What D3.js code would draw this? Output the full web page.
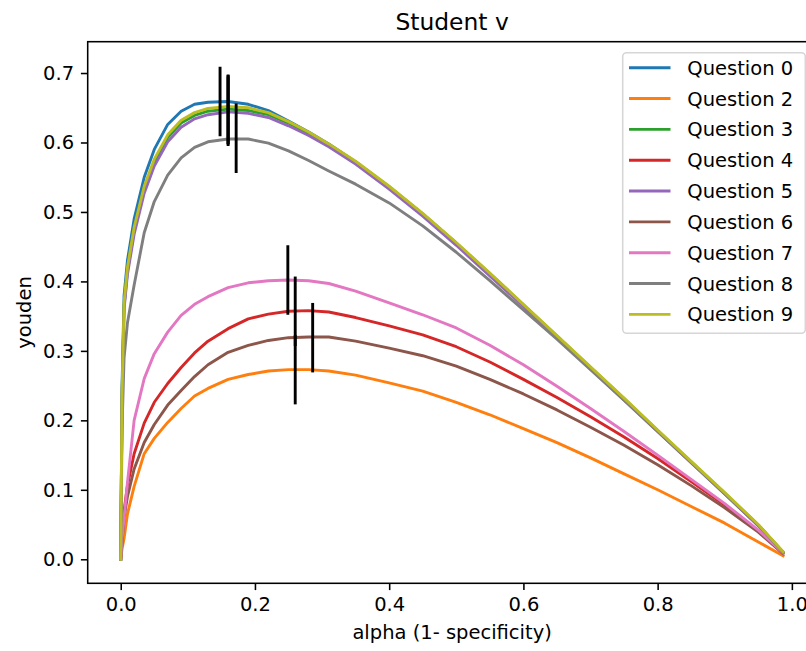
<!DOCTYPE html>
<html>
<head>
<meta charset="utf-8">
<script src="https://cdn.jsdelivr.net/npm/d3@7"></script>
<style>
  body { margin: 0; background: #fff; }
  svg { display: block; font-family: "DejaVu Sans", sans-serif; }
</style>
</head>
<body>
<svg id="chart" width="806" height="651"></svg>
<script>
// alpha (1 - specificity) grid shared by every curve
const alpha = [0, 0.002, 0.005, 0.01, 0.02, 0.035, 0.05, 0.07, 0.09, 0.11, 0.13, 0.16, 0.19, 0.22, 0.25, 0.28, 0.31, 0.35, 0.4, 0.45, 0.5, 0.55, 0.6, 0.65, 0.7, 0.75, 0.8, 0.85, 0.9, 0.95, 0.987];

const questions = ["Question 0", "Question 2", "Question 3", "Question 4", "Question 5", "Question 6", "Question 7", "Question 8", "Question 9"];

const q0 = [0, 0.25, 0.38, 0.43, 0.49, 0.55, 0.59, 0.626, 0.645, 0.655, 0.658, 0.659, 0.655, 0.646, 0.631, 0.615, 0.598, 0.572, 0.536, 0.497, 0.455, 0.411, 0.366, 0.321, 0.276, 0.231, 0.185, 0.14, 0.095, 0.049, 0.01];
const q2 = [0, 0.015, 0.03, 0.065, 0.105, 0.152, 0.174, 0.197, 0.217, 0.235, 0.246, 0.259, 0.266, 0.271, 0.273, 0.273, 0.271, 0.265, 0.254, 0.242, 0.226, 0.208, 0.188, 0.168, 0.146, 0.123, 0.1, 0.076, 0.052, 0.025, 0.005];
const q3 = [0, 0.235, 0.365, 0.415, 0.474, 0.533, 0.572, 0.607, 0.628, 0.639, 0.645, 0.648, 0.646, 0.64, 0.628, 0.613, 0.597, 0.572, 0.536, 0.497, 0.455, 0.411, 0.366, 0.321, 0.276, 0.231, 0.185, 0.14, 0.095, 0.049, 0.01];
const q4 = [0, 0.03, 0.07, 0.106, 0.152, 0.196, 0.226, 0.253, 0.276, 0.297, 0.314, 0.332, 0.346, 0.353, 0.357, 0.358, 0.356, 0.348, 0.336, 0.323, 0.306, 0.284, 0.259, 0.233, 0.205, 0.176, 0.145, 0.112, 0.078, 0.041, 0.009];
const q5 = [0, 0.23, 0.36, 0.41, 0.468, 0.527, 0.566, 0.601, 0.622, 0.634, 0.64, 0.644, 0.642, 0.636, 0.624, 0.61, 0.594, 0.569, 0.533, 0.494, 0.452, 0.408, 0.364, 0.319, 0.274, 0.229, 0.184, 0.139, 0.094, 0.048, 0.01];
const q6 = [0, 0.025, 0.06, 0.09, 0.13, 0.168, 0.194, 0.222, 0.243, 0.263, 0.28, 0.298, 0.308, 0.315, 0.319, 0.32, 0.32, 0.314, 0.304, 0.293, 0.278, 0.259, 0.238, 0.215, 0.19, 0.164, 0.136, 0.106, 0.074, 0.039, 0.008];
const q7 = [0, 0.03, 0.06, 0.11, 0.2, 0.26, 0.296, 0.327, 0.351, 0.367, 0.378, 0.391, 0.398, 0.401, 0.402, 0.401, 0.397, 0.386, 0.369, 0.352, 0.333, 0.308, 0.28, 0.249, 0.217, 0.184, 0.15, 0.115, 0.08, 0.042, 0.009];
const q8 = [0, 0.19, 0.29, 0.34, 0.395, 0.47, 0.515, 0.553, 0.578, 0.593, 0.601, 0.605, 0.605, 0.599, 0.588, 0.574, 0.559, 0.54, 0.513, 0.48, 0.442, 0.401, 0.359, 0.317, 0.273, 0.229, 0.184, 0.139, 0.094, 0.049, 0.01];
const q9 = [0, 0.24, 0.37, 0.42, 0.478, 0.537, 0.576, 0.611, 0.632, 0.643, 0.649, 0.652, 0.65, 0.643, 0.63, 0.615, 0.598, 0.573, 0.537, 0.498, 0.456, 0.412, 0.367, 0.322, 0.277, 0.232, 0.186, 0.141, 0.096, 0.05, 0.011];

// best alpha and youden for each question (black markers, +/- 0.05)
const bestAlpha = [0.148, 0.26, 0.16, 0.26, 0.16, 0.286, 0.249, 0.172, 0.16];
const bestYouden = [0.659, 0.273, 0.647, 0.357, 0.645, 0.319, 0.402, 0.606, 0.648];

const xTicks = [0, 0.2, 0.4, 0.6, 0.8, 1.0];
const yTicks = [0, 0.1, 0.2, 0.3, 0.4, 0.5, 0.6, 0.7];

const series = [q0, q2, q3, q4, q5, q6, q7, q8, q9].map((vals, i) => ({
  name: questions[i],
  values: vals.map((v, j) => ({ a: alpha[j], y: v })),
  bestA: bestAlpha[i],
  bestY: bestYouden[i],
}));

const svg = d3.select("#chart");
const margin = { top: 41.7, left: 87.7, bottom: 583.3, right: 816.5 };
const fs = 19.5;
const lw = 2.9;

const x = d3.scaleLinear().domain([-0.0492, 1.0367]).range([margin.left, margin.right]);
const y = d3.scaleLinear().domain([-0.0346, 0.7451]).range([margin.bottom, margin.top]);

const color = d3.scaleOrdinal()
  .domain(questions)
  .range(["#1f77b4", "#ff7f0e", "#2ca02c", "#d62728", "#9467bd", "#8c564b", "#e377c2", "#7f7f7f", "#bcbd22"]);

svg.append("defs").append("clipPath").attr("id", "clip")
  .append("rect")
  .attr("x", margin.left).attr("y", margin.top)
  .attr("width", margin.right - margin.left).attr("height", margin.bottom - margin.top);

const line = d3.line().curve(d3.curveLinear).x((d) => x(d.a)).y((d) => y(d.y));

const g = svg.append("g").attr("clip-path", "url(#clip)");

g.selectAll(".line")
  .data(series)
  .enter()
  .append("path")
  .attr("class", "line")
  .attr("fill", "none")
  .attr("stroke", (d) => color(d.name))
  .attr("stroke-width", lw)
  .attr("stroke-linejoin", "round")
  .attr("stroke-linecap", "square")
  .attr("d", (d) => line(d.values));

g.selectAll(".best")
  .data(series)
  .enter()
  .append("line")
  .attr("class", "best")
  .attr("stroke", "#000")
  .attr("stroke-width", lw)
  .attr("x1", (d) => x(d.bestA)).attr("x2", (d) => x(d.bestA))
  .attr("y1", (d) => y(d.bestY - 0.05)).attr("y2", (d) => y(d.bestY + 0.05));

// axes
const tick = 6.8;
const xAxis = svg.append("g")
  .attr("transform", `translate(0,${margin.bottom})`)
  .call(d3.axisBottom(x).tickValues(xTicks).tickFormat(d3.format(".1f")).tickSize(tick).tickPadding(tick).tickSizeOuter(0));
const yAxis = svg.append("g")
  .attr("transform", `translate(${margin.left},0)`)
  .call(d3.axisLeft(y).tickValues(yTicks).tickFormat(d3.format(".1f")).tickSize(tick).tickPadding(tick).tickSizeOuter(0));

[xAxis, yAxis].forEach((a) => {
  a.select(".domain").remove();
  a.selectAll(".tick line").attr("stroke", "#000").attr("stroke-width", 1.56);
  a.selectAll(".tick text").attr("fill", "#000").style("font-size", fs + "px").style("font-family", "DejaVu Sans");
});

svg.append("rect")
  .attr("x", margin.left).attr("y", margin.top)
  .attr("width", margin.right - margin.left).attr("height", margin.bottom - margin.top)
  .attr("fill", "none").attr("stroke", "#000").attr("stroke-width", 1.56);

// labels
svg.append("text")
  .attr("x", (margin.left + margin.right) / 2).attr("y", 30.3)
  .attr("text-anchor", "middle").style("font-size", fs * 1.2 + "px")
  .text("Student v");

svg.append("text")
  .attr("x", (margin.left + margin.right) / 2).attr("y", 639)
  .attr("text-anchor", "middle").style("font-size", fs + "px")
  .text("alpha (1- specificity)");

svg.append("text")
  .attr("transform", `translate(30.5,${(margin.top + margin.bottom) / 2}) rotate(-90)`)
  .attr("text-anchor", "middle").style("font-size", fs + "px")
  .text("youden");

// legend
const leg = svg.append("g");
leg.append("rect")
  .attr("x", 622.7).attr("y", 52.7).attr("width", 182.6).attr("height", 280.6)
  .attr("rx", 4).attr("fill", "#fff").attr("fill-opacity", 0.8)
  .attr("stroke", "#d6d6d6").attr("stroke-width", 1.56);

const items = leg.selectAll(".item")
  .data(series)
  .enter()
  .append("g")
  .attr("transform", (d, i) => `translate(0,${67.7 + i * 30.83})`);

items.append("line")
  .attr("x1", 629).attr("x2", 670.5)
  .attr("stroke", (d) => color(d.name)).attr("stroke-width", lw);

items.append("text")
  .attr("x", 687.3).attr("dy", "0.36em")
  .style("font-size", fs + "px")
  .text((d) => d.name);
</script>
</body>
</html>
